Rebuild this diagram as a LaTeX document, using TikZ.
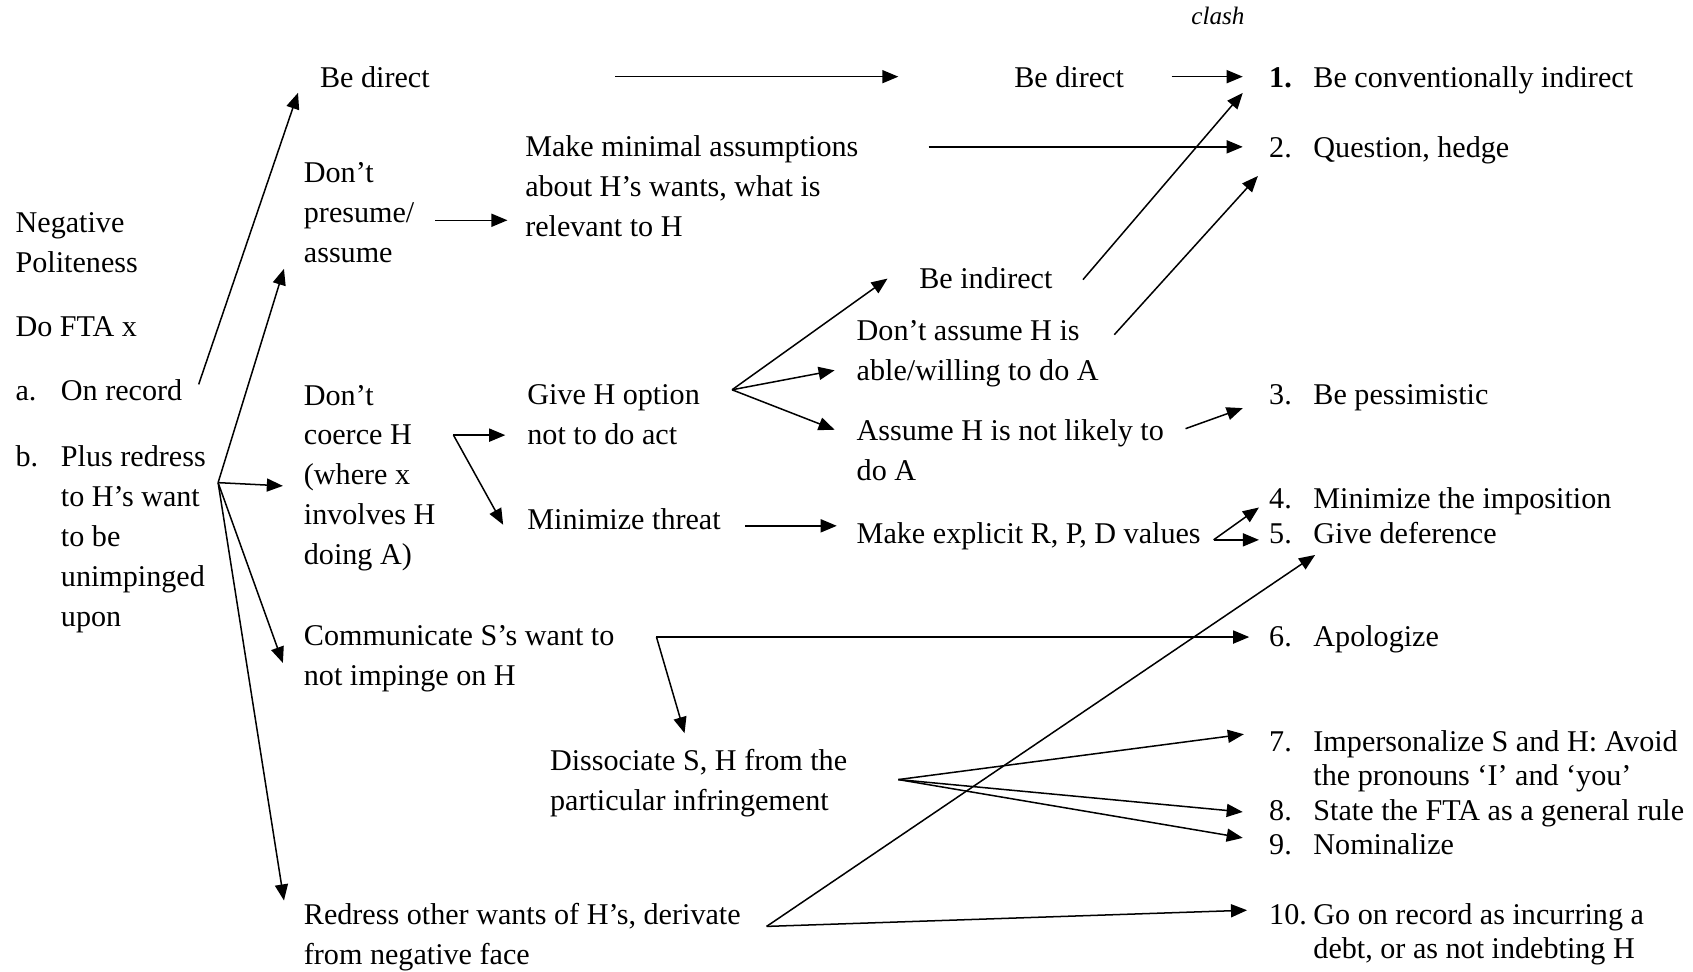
\documentclass[tikz,border=0pt]{standalone}
\usepackage{fontspec}
\setmainfont{Liberation Serif}
\usetikzlibrary{arrows.meta}

\begin{document}
\begin{tikzpicture}[x=0.43pt, y=-0.43pt,
    txt/.style={anchor=base west, inner sep=0pt, align=left, font=\fontsize{12}{15.9}\selectfont},
    item/.style={txt, font=\fontsize{12}{13.6}\selectfont},
    arr/.style={-{Triangle[length=6.4pt, width=5.2pt]}, line width=0.6pt},
    ln/.style={line width=0.6pt}
]
\useasboundingbox (0,0) rectangle (1568,900);

% Left column (multi-line nodes sit on their last baseline)
\node[txt] (neg) at (14,252) {Negative\\Politeness};
\node[txt] (dofta) at (14,312) {Do FTA x};
\node[txt] (la) at (14,371) {a.};
\node[txt] (onrec) at (56,371) {On record};
\node[txt] (lb) at (14,432) {b.};
\node[txt] (plus) at (56,580) {Plus redress\\to H’s want\\to be\\unimpinged\\upon};

% Second column
\node[txt] (bedirA) at (296,81) {Be direct};
\node[txt] (presume) at (281,243) {Don’t\\presume/\\assume};
\node[txt] (coerce) at (281,523) {Don’t\\coerce H\\(where x\\involves H\\doing A)};
\node[txt] (comm) at (281,635) {Communicate S’s want to\\not impinge on H};
\node[txt] (other) at (281,893) {Redress other wants of H’s, derivate\\from negative face};

% Third column
\node[txt] (minimal) at (486,219) {Make minimal assumptions\\about H’s wants, what is\\relevant to H};
\node[txt] (option) at (488,412) {Give H option\\not to do act};
\node[txt] (threat) at (488,490) {Minimize threat};
\node[txt] (dissoc) at (509,751) {Dissociate S, H from the\\particular infringement};

% Fourth column
\node[txt] (bedirB) at (939,81) {Be direct};
\node[txt] (beind) at (851,267) {Be indirect};
\node[txt] (noassume) at (793,352) {Don’t assume H is\\able/willing to do A};
\node[txt] (unlikely) at (793,445) {Assume H is not likely to\\do A};
\node[txt] (explicit) at (793,503) {Make explicit R, P, D values};

\node[txt, font=\fontsize{10}{12}\selectfont\itshape] (clash) at (1103,23) {clash};

% Output strategies
\node[item] (n1) at (1175,81) {\textbf{1.}};
\node[item] (s1) at (1216,81) {Be conventionally indirect};
\node[item] (n2) at (1175,146) {2.};
\node[item] (s2) at (1216,146) {Question, hedge};
\node[item] (n3) at (1175,375) {3.};
\node[item] (s3) at (1216,375) {Be pessimistic};
\node[item] (n4) at (1175,471) {4.};
\node[item] (s4) at (1216,471) {Minimize the imposition};
\node[item] (n5) at (1175,503) {5.};
\node[item] (s5) at (1216,503) {Give deference};
\node[item] (n6) at (1175,599) {6.};
\node[item] (s6) at (1216,599) {Apologize};
\node[item] (n7) at (1175,696) {7.};
\node[item] (s7) at (1216,727.6) {Impersonalize S and H: Avoid\\the pronouns ‘I’ and ‘you’};
\node[item] (n8) at (1175,760) {8.};
\node[item] (s8) at (1216,760) {State the FTA as a general rule};
\node[item] (n9) at (1175,791) {9.};
\node[item] (s9) at (1216,791) {Nominalize};
\node[item] (n10) at (1175,856) {10.};
\node[item] (s10) at (1216,887.6) {Go on record as incurring a\\debt, or as not indebting H};

% Branch points
\coordinate (jb) at ([shift={(146,-133)}]plus.base west);
\coordinate (jc) at ([shift={(139,-120)}]coerce.base west);
\coordinate (jo) at ([shift={(190,-51)}]option.base west);
\coordinate (je) at ([shift={(331,-3)}]explicit.base west);
\coordinate (jm) at ([shift={(327,-45)}]comm.base west);
\coordinate (jd) at ([shift={(323,-29)}]dissoc.base west);
\coordinate (jr) at ([shift={(429,-35)}]other.base west);

% Top row
\draw[arr] ([shift={(274,-10)}]bedirA.base west) -- ([shift={(-107,-10)}]bedirB.base west);
\draw[arr] ([shift={(146,-10)}]bedirB.base west) -- ([shift={(-24,-10)}]n1.base west);
\draw[arr] ([shift={(374,-83)}]minimal.base west) -- ([shift={(-24,-10)}]n2.base west);
\draw[arr] ([shift={(128,-15)}]onrec.base west) -- ([shift={(-20,5)}]bedirA.base west);

% Plus redress
\draw[arr] (jb) -- ([shift={(-18,6)}]presume.base west);
\draw[arr] (jb) -- ([shift={(-19,-73)}]coerce.base west);
\draw[arr] (jb) -- ([shift={(-19,-21)}]comm.base west);
\draw[arr] (jb) -- ([shift={(-18,-59)}]other.base west);

% Don't presume / don't coerce
\draw[arr] ([shift={(122,-39)}]presume.base west) -- ([shift={(-16,-15)}]minimal.base west);
\draw[arr] (jc) -- ([shift={(-20,-9)}]option.base west);
\draw[arr] (jc) -- ([shift={(-22,-4)}]threat.base west);
\draw[arr] ([shift={(202,-3)}]threat.base west) -- ([shift={(-18,-16)}]explicit.base west);

% Give H option
\draw[arr] (jo) -- ([shift={(-29,-9)}]beind.base west);
\draw[arr] (jo) -- ([shift={(-20,-9)}]noassume.base west);
\draw[arr] (jo) -- ([shift={(-20,-47)}]unlikely.base west);
\draw[arr] ([shift={(152,-8)}]beind.base west) -- ([shift={(-24,5)}]n1.base west);
\draw[arr] ([shift={(239,-42)}]noassume.base west) -- ([shift={(-10,17)}]n2.base west);
\draw[arr] ([shift={(305,-48)}]unlikely.base west) -- ([shift={(-24,3)}]n3.base west);

% Make explicit
\draw[arr] (je) -- ([shift={(-9,-1)}]n4.base west);
\draw[arr] (je) -- ([shift={(-9,-3)}]n5.base west);

% Communicate / dissociate / redress other wants
\draw[arr] (jm) -- ([shift={(-18,-9)}]n6.base west);
\draw[arr] (jm) -- ([shift={(125,-72)}]dissoc.base west);
\draw[arr] (jd) -- ([shift={(-23,-16)}]n7.base west);
\draw[arr] (jd) -- ([shift={(-24,-8)}]n8.base west);
\draw[arr] (jd) -- ([shift={(-24,-15)}]n9.base west);
\draw[arr] (jr) -- ([shift={(2,11)}]s5.base west);
\draw[arr] (jr) -- ([shift={(-20,-13)}]n10.base west);

\end{tikzpicture}
\end{document}
